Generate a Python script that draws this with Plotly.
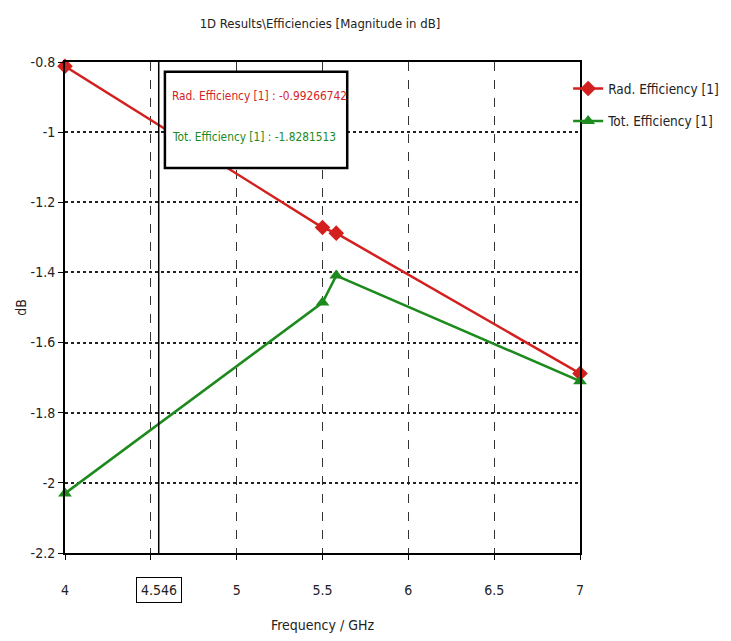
import plotly.graph_objects as go

freq = [4.0, 5.5, 5.58, 7.0]
rad_eff = [-0.812, -1.272, -1.288, -1.688]
tot_eff = [-2.03, -1.486, -1.409, -1.71]
x_ticks = [4, 4.5, 5, 5.5, 6, 6.5, 7]
x_ticktext = ["4", "", "5", "5.5", "6", "6.5", "7"]
y_ticks = [-0.8, -1, -1.2, -1.4, -1.6, -1.8, -2, -2.2]
y_ticktext = ["-0.8", "-1", "-1.2", "-1.4", "-1.6", "-1.8", "-2", "-2.2"]
cursor_x = 4.546
rad_at_cursor = "-0.99266742"
tot_at_cursor = "-1.8281513"

RED = "#d41f1f"
GREEN = "#1c8a1c"
FONT = "DejaVu Sans Condensed, DejaVu Sans, sans-serif"

def f(size, color="#222"):
    return dict(family=FONT, size=size, color=color)

fig = go.Figure()
fig.add_trace(go.Scatter(x=freq, y=rad_eff, mode="lines+markers", name="Rad. Efficiency [1]",
                         legendgroup="a", cliponaxis=False,
                         line=dict(color=RED, width=2.5),
                         marker=dict(symbol="diamond", size=12, color=RED)))
fig.add_trace(go.Scatter(x=freq, y=tot_eff, mode="lines+markers", name="Tot. Efficiency [1]",
                         legendgroup="b", cliponaxis=False,
                         line=dict(color=GREEN, width=2.5),
                         marker=dict(symbol="triangle-up", size=12, color=GREEN)))

# cursor line
fig.add_shape(type="line", xref="x", yref="paper", x0=cursor_x, x1=cursor_x, y0=0, y1=1,
              line=dict(color="black", width=1.5))

fig.add_annotation(xref="x", yref="paper", x=cursor_x, y=0, yshift=-37, yanchor="middle",
                   text="4.546", showarrow=False, bordercolor="black", borderwidth=1, borderpad=4,
                   font=f(14))

# readout box
fig.add_shape(type="rect", xref="paper", yref="paper", x0=0.194, x1=0.548, y0=0.784, y1=0.98,
              fillcolor="white", line=dict(color="black", width=2.5), layer="above")
fig.add_annotation(xref="paper", yref="paper", x=0.204, y=0.931, xanchor="left", yanchor="middle",
                   text=f"Rad. Efficiency [1] : {rad_at_cursor}", showarrow=False,
                   font=f(11.8, RED))
fig.add_annotation(xref="paper", yref="paper", x=0.204, y=0.847, xanchor="left", yanchor="middle",
                   text=f"Tot. Efficiency [1] : {tot_at_cursor}", showarrow=False,
                   font=f(11.8, GREEN))

fig.update_layout(
    width=723, height=633,
    margin=dict(l=57, r=151, t=54, b=88, autoexpand=False),
    paper_bgcolor="white", plot_bgcolor="white",
    title=dict(text="1D Results\\Efficiencies [Magnitude in dB]", x=0.4315, xanchor="center",
               y=0.976, yanchor="middle", font=f(13)),
    font=f(14),
    legend=dict(x=0.977, y=0.977, xanchor="left", yanchor="top", bgcolor="rgba(0,0,0,0)",
                font=f(13.5), tracegroupgap=12, itemwidth=30),
    showlegend=True,
)
fig.update_xaxes(range=[4, 7], tickvals=x_ticks, ticktext=x_ticktext, showgrid=True,
                 gridcolor="#333", griddash="dash", gridwidth=1, ticks="outside", ticklen=5,
                 ticklabelstandoff=18,
                 tickcolor="black", showline=True, linecolor="black", linewidth=2, mirror=True,
                 zeroline=False, title=dict(text="Frequency / GHz", standoff=23, font=f(14)),
                 tickfont=f(14))
fig.update_yaxes(range=[-2.2, -0.8], tickvals=y_ticks, ticktext=y_ticktext, showgrid=True,
                 gridcolor="#222", griddash="dot", gridwidth=1.5, ticks="outside", ticklen=5,
                 tickcolor="black", showline=True, linecolor="black", linewidth=2, mirror=True,
                 zeroline=False, title=dict(text="dB", standoff=1, font=f(14)), tickfont=f(14))

fig.write_html("out.html")
